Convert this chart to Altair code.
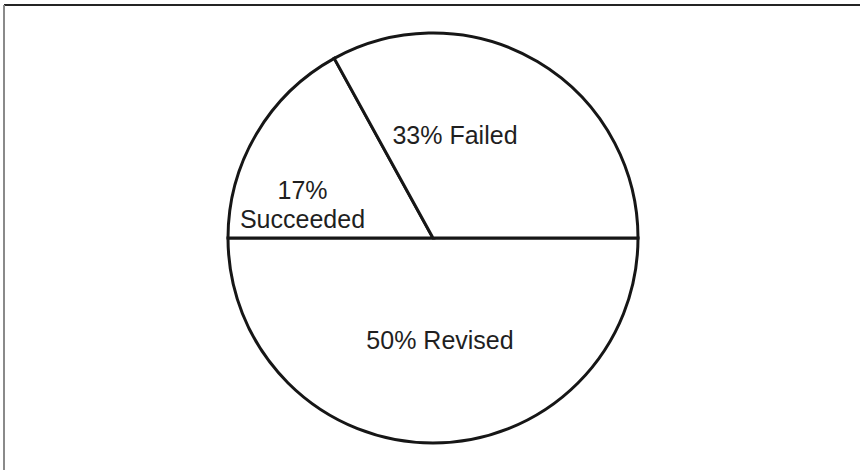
import math
import altair as alt
import pandas as pd

# Outcome shares, in drawing order (clockwise from 3 o'clock)
categories = ["Revised", "Succeeded", "Failed"]
shares = [50, 17, 33]
labels = ["50% Revised", ["17%", "Succeeded"], "33% Failed"]

df = pd.DataFrame({
    "outcome": categories,
    "share": shares,
    "rank": list(range(len(categories))),
    "label": labels,
})

CX, CY, R = 433, 238, 205
FONT = "Liberation Sans"

angle_scale = alt.Scale(domain=[0, 100],
                        range=[math.pi / 2, math.pi / 2 + 2 * math.pi])

pie = alt.Chart(df).mark_arc(
    outerRadius=R, fill="white", stroke="#161616", strokeWidth=3,
    strokeJoin="miter",
).encode(
    theta=alt.Theta("share:Q", stack=True, scale=angle_scale),
    order=alt.Order("rank:Q"),
    x=alt.value(CX), y=alt.value(CY),
)

# cumulative shares so each label sits on its slice's mid-angle
stacked = alt.Chart(df).transform_window(
    cum="sum(share)", sort=[alt.SortField("rank")],
    frame=[None, 0],
).transform_calculate(mid="datum.cum - datum.share / 2")

# label placement per slice: radius along the slice midpoint, then a nudge
placement = {
    "Revised": dict(radius=102, dx=7, dy=1),
    "Succeeded": dict(radius=140, dx=-10, dy=24),
    "Failed": dict(radius=110, dx=-34, dy=-7),
}
texts = []
for name, p in placement.items():
    texts.append(
        stacked.transform_filter(alt.datum.outcome == name)
        .mark_text(radius=p["radius"], dx=p["dx"], dy=p["dy"], font=FONT,
                   fontSize=25, color="#1f1f1f", align="center",
                   baseline="middle", lineHeight=29)
        .encode(theta=alt.Theta("mid:Q", scale=angle_scale),
                x=alt.value(CX), y=alt.value(CY), text="label")
    )

frame_top = alt.Chart(df).mark_rule(color="#222222", strokeWidth=1.5).encode(
    x=alt.value(4), x2=alt.value(860), y=alt.value(5))
frame_left = alt.Chart(df).mark_rule(color="#8a8a8a", strokeWidth=2).encode(
    x=alt.value(4), y=alt.value(5), y2=alt.value(470))

chart = alt.layer(frame_top, frame_left, pie, *texts).properties(
    width=860, height=470, padding=0,
    autosize=alt.AutoSizeParams(type="none"),
    background="white",
).configure_view(stroke=None)

chart.save("out.html", embed_options={"renderer": "svg", "actions": False})
